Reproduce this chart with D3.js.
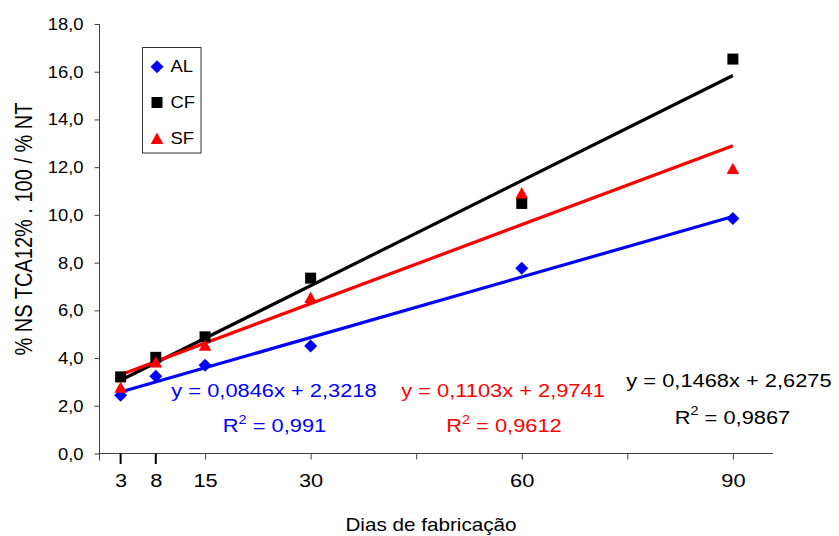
<!DOCTYPE html>
<html><head><meta charset="utf-8">
<script src="https://cdn.jsdelivr.net/npm/d3@7"></script>
<style>
html,body{margin:0;padding:0;background:#fff;}
svg{display:block;font-family:"Liberation Sans",Arial,Helvetica,sans-serif;}
</style></head>
<body>
<svg id="chart" width="839" height="536"></svg>
<script>
// ---- data ----
const days = [3, 8, 15, 30, 60, 90];
const seriesNames = ["AL", "CF", "SF"];
const valuesAL = [2.44, 3.24, 3.70, 4.51, 7.76, 9.85];
const valuesCF = [3.21, 4.03, 4.89, 7.35, 10.48, 16.53];
const valuesSF = [2.78, 3.84, 4.54, 6.55, 10.93, 11.95];
const slopes = [0.0846, 0.1468, 0.1103];
const intercepts = [2.3218, 2.6275, 2.9741];
const rSquared = [0.991, 0.9867, 0.9612];
const seriesColors = ["#0000ff", "#000000", "#ff0000"];
const yTickValues = [0, 2, 4, 6, 8, 10, 12, 14, 16, 18];
const xMajorTicks = [15, 30, 45, 60, 75, 90];
const xLabelTicks = [3, 8, 15, 30, 60, 90];
const xMarkedTicks = [3, 8];
const xTitle = "Dias de fabricação";
const yTitle = "% NS TCA12% . 100 / % NT";

// ---- setup ----
const SX = 1.15; // horizontal stretch of text in the reference
const svg = d3.select("#chart");
const x = d3.scaleLinear().domain([0, 95.7]).range([99.5, 773]);
const y = d3.scaleLinear().domain([0, 18]).range([453.5, 24]);
const comma = v => String(v).replace(".", ",");
const fmtY = v => v.toFixed(1).replace(".", ",");

function stretchText(parent, tx, ty, rot, anchor, size, color) {
  const g = parent.append("g")
    .attr("transform", `translate(${tx},${ty}) scale(${SX},1) rotate(${rot})`);
  return g.append("text").attr("text-anchor", anchor).attr("font-size", size)
    .attr("fill", color || "#000");
}

// ---- axes ----
const axisColor = "#404040";
const yAxis = svg.append("g").attr("transform", "translate(99.5,0)")
  .call(d3.axisLeft(y).tickValues(yTickValues).tickSize(5).tickSizeOuter(0).tickFormat(fmtY));
yAxis.select(".domain").remove();
yAxis.selectAll(".tick line").attr("stroke", axisColor);
yAxis.selectAll(".tick text").each(function () {
  const t = d3.select(this);
  t.attr("x", 0).attr("dy", null).attr("y", 0)
    .attr("transform", `translate(-16,5.5) scale(${SX},1)`)
    .attr("font-size", 16).attr("font-family", null).attr("fill", "#000")
    .attr("text-anchor", "end");
});
yAxis.attr("font-family", null);
svg.append("line").attr("x1", 99.5).attr("x2", 99.5).attr("y1", y(18)).attr("y2", y(0) + 7)
  .attr("stroke", axisColor).attr("stroke-width", 1);

const xAxis = svg.append("g").attr("transform", "translate(0,453.5)")
  .call(d3.axisBottom(x).tickValues(xMajorTicks).tickSize(6).tickSizeOuter(0).tickFormat(""));
xAxis.select(".domain").remove();
xAxis.selectAll(".tick line").attr("stroke", axisColor);
svg.append("line").attr("x1", x(0) - 1).attr("x2", x(95.7)).attr("y1", 453.5).attr("y2", 453.5)
  .attr("stroke", axisColor).attr("stroke-width", 1);

// marked ticks at 3 and 8
svg.append("g").selectAll("line").data(xMarkedTicks).join("line")
  .attr("x1", d => x(d)).attr("x2", d => x(d)).attr("y1", 453.5).attr("y2", 464)
  .attr("stroke", "#000").attr("stroke-width", 2);

// tick labels on x
const xLab = svg.append("g").attr("transform", "translate(0,453.5)")
  .call(d3.axisBottom(x).tickValues(xLabelTicks).tickSize(0).tickFormat(d => String(d)));
xLab.select(".domain").remove();
xLab.attr("font-family", null);
xLab.selectAll(".tick text").each(function () {
  d3.select(this).attr("y", 0).attr("dy", null)
    .attr("transform", `translate(0,33.3) scale(${SX},1)`)
    .attr("font-size", 19).attr("fill", "#000").attr("text-anchor", "middle");
});

// axis titles
stretchText(svg, 431, 531, 0, "middle", 18).text(xTitle);
stretchText(svg, 32, 229, -90, "middle", 20).text(yTitle);

// ---- trend lines ----
const seriesValues = [valuesAL, valuesCF, valuesSF];
const line = d3.line().x(d => x(d[0])).y(d => y(d[1]));
const xFirst = d3.min(days), xLast = d3.max(days);
seriesNames.forEach((name, i) => {
  const pts = [xFirst, xLast].map(d => [d, slopes[i] * d + intercepts[i]]);
  svg.append("path").attr("d", line(pts)).attr("fill", "none")
    .attr("stroke", seriesColors[i]).attr("stroke-width", 3.2);
});

// ---- markers ----
const markerPath = [
  "M0,-6.5L6.5,0L0,6.5L-6.5,0Z",            // diamond
  "M-5.5,-5.5H5.5V5.5H-5.5Z",               // square
  "M0,-5.7L6.3,5.7H-6.3Z"                   // triangle
];
seriesNames.forEach((name, i) => {
  svg.append("g").selectAll("path").data(days.map((d, j) => [d, seriesValues[i][j]])).join("path")
    .attr("d", markerPath[i])
    .attr("transform", d => `translate(${x(d[0])},${y(d[1])})`)
    .attr("fill", seriesColors[i]);
});

// ---- equations ----
const eqPos = [
  {cx: 274, by: 397, rcx: 274.5, rby: 432},
  {cx: 729, by: 387, rcx: 732.5, rby: 423.5},
  {cx: 503, by: 397, rcx: 504, rby: 432}
];
seriesNames.forEach((name, i) => {
  const p = eqPos[i];
  stretchText(svg, p.cx, p.by, 0, "middle", 19, seriesColors[i])
    .text(`y = ${comma(slopes[i])}x + ${comma(intercepts[i])}`);
  const t = stretchText(svg, p.rcx, p.rby, 0, "middle", 19, seriesColors[i]);
  t.append("tspan").text("R");
  t.append("tspan").attr("font-size", 12.5).attr("dy", -8.5).text("2");
  t.append("tspan").attr("dy", 8.5).text(` = ${comma(rSquared[i])}`);
});

// ---- legend ----
const legend = svg.append("g");
legend.append("rect").attr("x", 142.5).attr("y", 47.5).attr("width", 58.5).attr("height", 105.5)
  .attr("fill", "#fff").attr("stroke", "#333").attr("stroke-width", 1);
seriesNames.forEach((name, i) => {
  const cy = 66.7 + i * 35.8;
  legend.append("path").attr("d", markerPath[i]).attr("transform", `translate(157,${cy})`)
    .attr("fill", seriesColors[i]);
  stretchText(legend, 170.5, cy + 5.3, 0, "start", 16).text(name);
});
</script>
</body></html>
